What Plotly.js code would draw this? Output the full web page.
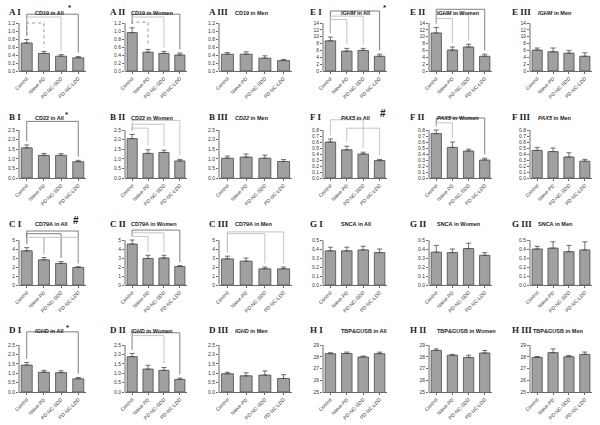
<!DOCTYPE html>
<html><head><meta charset="utf-8">
<script src="https://cdn.plot.ly/plotly-3.0.1.min.js"></script>
<style>html,body{margin:0;padding:0;background:#fff}#chart{width:600px;height:425px}</style>
</head><body><div id="chart"></div>
<script>
// ---------------- DATA ----------------
const groups = ["Control", "Naive-PD", "PD-NC-SDD", "PD-NC-LDD"];

// y-axis tick values
const ticksCD19 = [0, 0.2, 0.4, 0.6, 0.8, 1.0, 1.2];
const ticksIGHM = [0, 2, 4, 6, 8, 10, 12, 14];
const ticksCD22 = [0, 0.5, 1.0, 1.5, 2.0, 2.5];
const ticksPAX5 = [0, 0.1, 0.2, 0.3, 0.4, 0.5, 0.6, 0.7, 0.8];
const ticksCD79A = [0, 1, 2, 3, 4, 5];
const ticksSNCA = [0, 0.1, 0.2, 0.3, 0.4, 0.5];
const ticksIGHD = [0, 0.5, 1.0, 1.5, 2.0, 2.5];
const ticksRef = [25, 26, 27, 28, 29];

// means and SEM
const cd19All = [0.70, 0.44, 0.37, 0.33];      const cd19AllSem = [0.09, 0.05, 0.04, 0.03];
const cd19Women = [0.96, 0.47, 0.44, 0.40];    const cd19WomenSem = [0.12, 0.07, 0.05, 0.05];
const cd19Men = [0.42, 0.42, 0.32, 0.26];      const cd19MenSem = [0.04, 0.06, 0.06, 0.03];
const ighmAll = [8.8, 5.8, 6.0, 4.3];          const ighmAllSem = [1.1, 0.8, 0.6, 0.6];
const ighmWomen = [11.1, 6.1, 7.0, 4.3];       const ighmWomenSem = [1.6, 0.9, 0.8, 0.6];
const ighmMen = [6.1, 5.6, 5.2, 4.3];          const ighmMenSem = [0.6, 1.1, 0.8, 1.0];
const cd22All = [1.57, 1.18, 1.18, 0.85];      const cd22AllSem = [0.15, 0.10, 0.09, 0.07];
const cd22Women = [2.05, 1.28, 1.33, 0.89];    const cd22WomenSem = [0.22, 0.19, 0.12, 0.08];
const cd22Men = [1.03, 1.09, 1.03, 0.86];      const cd22MenSem = [0.11, 0.16, 0.16, 0.10];
const pax5All = [0.60, 0.47, 0.40, 0.29];      const pax5AllSem = [0.05, 0.06, 0.03, 0.02];
const pax5Women = [0.74, 0.51, 0.45, 0.30];    const pax5WomenSem = [0.06, 0.09, 0.03, 0.03];
const pax5Men = [0.46, 0.44, 0.35, 0.28];      const pax5MenSem = [0.05, 0.06, 0.07, 0.03];
const cd79aAll = [3.8, 2.8, 2.4, 1.95];        const cd79aAllSem = [0.35, 0.25, 0.2, 0.08];
const cd79aWomen = [4.55, 2.95, 3.0, 2.05];    const cd79aWomenSem = [0.45, 0.35, 0.3, 0.1];
const cd79aMen = [2.9, 2.65, 1.8, 1.8];        const cd79aMenSem = [0.3, 0.35, 0.2, 0.2];
const sncaAll = [0.38, 0.38, 0.39, 0.36];      const sncaAllSem = [0.04, 0.04, 0.04, 0.04];
const sncaWomen = [0.365, 0.36, 0.405, 0.33];  const sncaWomenSem = [0.075, 0.04, 0.06, 0.03];
const sncaMen = [0.40, 0.41, 0.37, 0.39];      const sncaMenSem = [0.03, 0.07, 0.07, 0.09];
const ighdAll = [1.43, 1.05, 1.03, 0.70];      const ighdAllSem = [0.14, 0.10, 0.10, 0.07];
const ighdWomen = [1.88, 1.22, 1.15, 0.67];    const ighdWomenSem = [0.17, 0.20, 0.15, 0.07];
const ighdMen = [0.97, 0.86, 0.90, 0.72];      const ighdMenSem = [0.08, 0.16, 0.22, 0.20];
const refAll = [28.26, 28.28, 27.98, 28.26];   const refAllSem = [0.08, 0.12, 0.08, 0.13];
const refWomen = [28.54, 28.13, 27.94, 28.32]; const refWomenSem = [0.13, 0.07, 0.19, 0.22];
const refMen = [27.94, 28.35, 28.0, 28.2];     const refMenSem = [0.08, 0.32, 0.1, 0.2];

// significance brackets: [fromGroup, toGroup, level, kind]
const cd19AllBr = [[0, 3, 1.42, "dark"], [0, 2, 1.35, "light"], [0, 1, 1.2, "dot"]];
const cd19WomenBr = [[0, 3, 1.42, "dark"], [0, 2, 1.35, "light"], [0, 1, 1.22, "dot"]];
const ighmAllBr = [[0, 3, 17.5, "dark"], [0, 2, 16.0, "light"], [0, 1, 15.0, "light"]];
const ighmWomenBr = [[0, 3, 18.0, "dark"], [0, 2, 16.6, "light"], [0, 1, 15.3, "light"]];
const cd22AllBr = [[0, 3, 2.95, "dark"]];
const cd22WomenBr = [[0, 3, 3.0, "light"], [0, 2, 2.8, "light"], [0, 1, 2.6, "light"]];
const pax5AllBr = [[0, 2, 0.97, "light"], [1, 3, 0.83, "light"]];
const pax5WomenBr = [[0, 3, 1.0, "dark"], [0, 1, 0.92, "light"]];
const cd79aAllBr = [[0, 3, 6.0, "dark"], [0, 2, 5.7, "dark"], [0, 1, 5.3, "light"], [1, 3, 5.3, "light"]];
const cd79aWomenBr = [[0, 3, 6.1, "dark"], [0, 2, 5.8, "light"], [0, 1, 5.4, "light"]];
const cd79aMenBr = [[0, 3, 5.9, "light"], [0, 2, 5.7, "light"]];
const ighdAllBr = [[0, 3, 3.2, "dark"]];
const ighdWomenBr = [[0, 3, 3.15, "dark"], [0, 2, 3.0, "light"]];

const panels = [
  {label: "A I", title: "CD19 in All", mean: cd19All, sem: cd19AllSem, ticks: ticksCD19, br: cd19AllBr, mark: "*"},
  {label: "A II", title: "CD19 in Women", mean: cd19Women, sem: cd19WomenSem, ticks: ticksCD19, br: cd19WomenBr},
  {label: "A III", title: "CD19 in Men", mean: cd19Men, sem: cd19MenSem, ticks: ticksCD19, br: []},
  {label: "E I", title: "<i>IGHM</i> in All", mean: ighmAll, sem: ighmAllSem, ticks: ticksIGHM, br: ighmAllBr, mark: "*"},
  {label: "E II", title: "<i>IGHM</i> in Women", mean: ighmWomen, sem: ighmWomenSem, ticks: ticksIGHM, br: ighmWomenBr},
  {label: "E III", title: "<i>IGHM</i> in Men", mean: ighmMen, sem: ighmMenSem, ticks: ticksIGHM, br: []},
  {label: "B I", title: "CD22 in All", mean: cd22All, sem: cd22AllSem, ticks: ticksCD22, br: cd22AllBr, mark: "*"},
  {label: "B II", title: "CD22 in Women", mean: cd22Women, sem: cd22WomenSem, ticks: ticksCD22, br: cd22WomenBr},
  {label: "B III", title: "<i>CD22</i> in Men", mean: cd22Men, sem: cd22MenSem, ticks: ticksCD22, br: []},
  {label: "F I", title: "<i>PAX5</i> in All", mean: pax5All, sem: pax5AllSem, ticks: ticksPAX5, br: pax5AllBr, mark: "#"},
  {label: "F II", title: "<i>PAX5</i> in Women", mean: pax5Women, sem: pax5WomenSem, ticks: ticksPAX5, br: pax5WomenBr},
  {label: "F III", title: "<i>PAX5</i> in Men", mean: pax5Men, sem: pax5MenSem, ticks: ticksPAX5, br: []},
  {label: "C I", title: "CD79A in All", mean: cd79aAll, sem: cd79aAllSem, ticks: ticksCD79A, br: cd79aAllBr, mark: "#"},
  {label: "C II", title: "CD79A in Women", mean: cd79aWomen, sem: cd79aWomenSem, ticks: ticksCD79A, br: cd79aWomenBr},
  {label: "C III", title: "CD79A in Men", mean: cd79aMen, sem: cd79aMenSem, ticks: ticksCD79A, br: cd79aMenBr},
  {label: "G I", title: "SNCA in All", mean: sncaAll, sem: sncaAllSem, ticks: ticksSNCA, br: []},
  {label: "G II", title: "SNCA in Women", mean: sncaWomen, sem: sncaWomenSem, ticks: ticksSNCA, br: []},
  {label: "G III", title: "SNCA in Men", mean: sncaMen, sem: sncaMenSem, ticks: ticksSNCA, br: []},
  {label: "D I", title: "<i>IGHD</i> in All", mean: ighdAll, sem: ighdAllSem, ticks: ticksIGHD, br: ighdAllBr, mark: "*"},
  {label: "D II", title: "<i>IGHD</i> in Women", mean: ighdWomen, sem: ighdWomenSem, ticks: ticksIGHD, br: ighdWomenBr},
  {label: "D III", title: "<i>IGHD</i> in Men", mean: ighdMen, sem: ighdMenSem, ticks: ticksIGHD, br: []},
  {label: "H I", title: "TBP&amp;GUSB in All", mean: refAll, sem: refAllSem, ticks: ticksRef, br: []},
  {label: "H II", title: "TBP&amp;GUSB in Women", mean: refWomen, sem: refWomenSem, ticks: ticksRef, br: []},
  {label: "H III", title: "TBP&amp;GUSB in Men", mean: refMen, sem: refMenSem, ticks: ticksRef, br: [], titleX: 531}
];

// ---------------- LAYOUT GEOMETRY ----------------
const W = 600, H = 425;
const colAxisPx = [19, 125, 219, 323, 429, 530];
const colEndPx = [86, 187, 292, 387, 492, 592];
const rowZeroPx = [71, 178, 285, 392];
const rowTopTickPx = [23, 130, 240, 345];
const headroom = 1.35;
const labelXPx = [7, 108, 207, 308, 408, 510];
const titleLeftPx = [33, 129, 233, 339, 435, 536];
const rowTextPx = [12, 117, 224, 330];
const markPos = {"A I": [70, 8], "E I": [385, 8], "B I": [67, 114], "F I": [383, 113], "C I": [76, 220], "D I": [68, 327]};

const barFill = "#a0a0a0", barLine = "#4a4a4a", axisCol = "#444", textCol = "#333";
const brStyle = {dark: {color: "#707070", dash: "solid"}, light: {color: "#bdbdbd", dash: "solid"}, dot: {color: "#8a8a8a", dash: "dot"}};

const traces = [], shapes = [], annotations = [];
const layout = {
  width: W, height: H, margin: {l: 0, r: 0, t: 0, b: 0},
  paper_bgcolor: "#fff", plot_bgcolor: "#fff", showlegend: false,
  font: {family: "Liberation Sans, Arial, sans-serif", color: textCol},
  shapes: shapes, annotations: annotations
};

panels.forEach((p, i) => {
  const row = Math.floor(i / 6), col = i % 6;
  const n = i + 1;
  const xid = n === 1 ? "x" : "x" + n, yid = n === 1 ? "y" : "y" + n;
  const xkey = n === 1 ? "xaxis" : "xaxis" + n, ykey = n === 1 ? "yaxis" : "yaxis" + n;
  const ymin = p.ticks[0], tmax = p.ticks[p.ticks.length - 1];
  const zero = rowZeroPx[row], topTick = rowTopTickPx[row];
  const domTop = zero - (zero - topTick) * headroom;
  const isDec = p.ticks.some(v => Math.round(v) !== v);

  layout[xkey] = {
    domain: [colAxisPx[col] / W, colEndPx[col] / W], anchor: yid,
    range: [-0.45, 3.45], tickvals: [0, 1, 2, 3], ticktext: groups, tickangle: -45,
    tickfont: {size: 5, color: textCol}, ticks: "outside", ticklen: 2, tickwidth: 0.8, tickcolor: axisCol,
    showline: true, linecolor: axisCol, linewidth: 0.8, showgrid: false, zeroline: false, fixedrange: true
  };
  layout[ykey] = {
    domain: [1 - zero / H, 1 - domTop / H], anchor: xid,
    range: [ymin, ymin + (tmax - ymin) * headroom], tickvals: p.ticks, tickformat: isDec ? ".1f" : "d",
    tickfont: {size: 5, color: textCol}, ticks: "outside", ticklen: 2, tickwidth: 0.8, tickcolor: axisCol,
    showline: false, showgrid: false, zeroline: false, fixedrange: true
  };

  traces.push({
    type: "bar", x: [0, 1, 2, 3], y: p.mean, xaxis: xid, yaxis: yid, width: 0.64,
    marker: {color: barFill, line: {color: barLine, width: 0.8}},
    error_y: {type: "data", symmetric: false, array: p.sem, arrayminus: p.sem.map(() => 0),
              color: barLine, thickness: 0.8, width: 2.5},
    hoverinfo: "skip"
  });

  // y axis line only up to the top tick
  shapes.push({type: "line", xref: xid + " domain", yref: yid, x0: 0, x1: 0, y0: ymin, y1: tmax,
               line: {color: axisCol, width: 0.8}});

  // significance brackets
  const gap = 0.08 * (tmax - ymin);
  p.br.forEach(b => {
    const [a, c, lev, kind] = b;
    const ya = p.mean[a] + p.sem[a] + gap, yc = p.mean[c] + p.sem[c] + gap;
    shapes.push({type: "path", xref: xid, yref: yid, layer: "above",
                 path: `M ${a},${ya} L ${a},${lev} L ${c},${lev} L ${c},${yc}`,
                 line: {color: brStyle[kind].color, width: 0.9, dash: brStyle[kind].dash}});
  });

  annotations.push({xref: "paper", yref: "paper", x: labelXPx[col] / W, y: 1 - rowTextPx[row] / H,
    xanchor: "left", yanchor: "middle", showarrow: false, text: "<b>" + p.label + "</b>",
    font: {family: "Liberation Serif, Times New Roman, serif", size: 9, color: "#222"}});
  annotations.push({xref: "paper", yref: "paper", x: (p.titleX || titleLeftPx[col]) / W, y: 1 - (rowTextPx[row] + 0.5) / H,
    xanchor: "left", yanchor: "middle", showarrow: false, text: "<b>" + p.title + "</b>",
    font: {family: "Liberation Sans, Arial, sans-serif", size: 5.5, color: "#222"}});
  if (p.mark) {
    const mp = markPos[p.label];
    annotations.push({xref: "paper", yref: "paper", x: mp[0] / W, y: 1 - mp[1] / H,
      xanchor: "center", yanchor: "middle", showarrow: false, text: "<b>" + p.mark + "</b>",
      font: {family: "Liberation Sans, Arial, sans-serif", size: p.mark === "#" ? 10 : 8, color: "#222"}});
  }
});

Plotly.newPlot("chart", traces, layout, {displayModeBar: false, staticPlot: true});
</script>
</body></html>
